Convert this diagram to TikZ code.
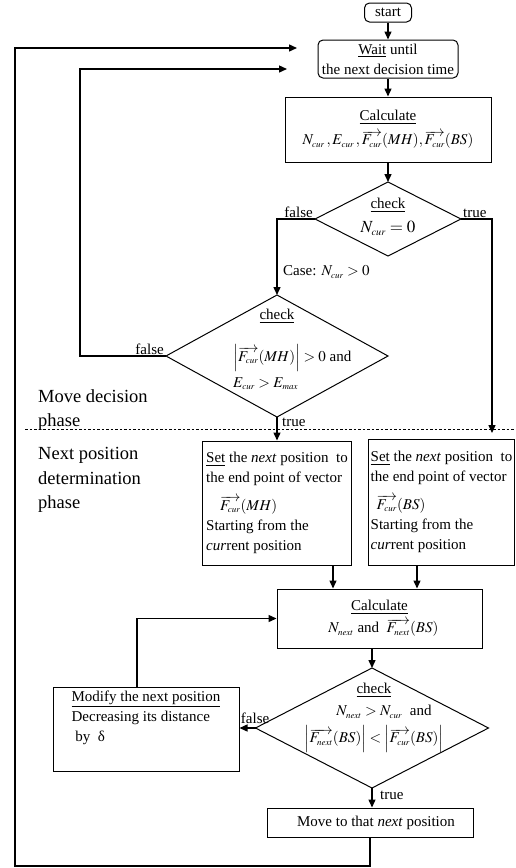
\documentclass[tikz,border=0pt]{standalone}
\usepackage{mathptmx}
\usepackage{fontspec}
\setmainfont{Liberation Serif}
\usetikzlibrary{shapes.geometric,arrows.meta}
\newcommand\mysb[1]{_{\scriptscriptstyle #1}}
\begin{document}
\begin{tikzpicture}[x=1pt,y=-1pt,
 txt/.style={font=\fontsize{15}{20}\selectfont, inner sep=0pt},
 box/.style={draw, line width=1pt, font=\fontsize{15}{20}\selectfont, align=center, inner sep=2pt},
 lbox/.style={box, align=left},
 dia/.style={draw, diamond, line width=1pt, inner sep=0pt, outer sep=0pt},
 arr/.style={line width=1.4pt, -{Triangle[length=8pt,width=7pt]}},
 phase/.style={font=\fontsize{18.5}{24.5}\selectfont, align=left, inner sep=0pt, anchor=west}]
\useasboundingbox (0,0) rectangle (515,868);

% nodes
\node[box, rounded corners=5pt, minimum width=47pt, minimum height=19pt, inner sep=0pt] (start) at (388,12.5) {start};
\node[box, rounded corners=5pt, minimum width=140pt, minimum height=38pt, inner sep=0pt] (wait) at (388,59) {\underline{Wait} until\\the next decision time};
\node[box, minimum width=206pt, minimum height=65pt] (calc1) at (388,129.5) {\underline{Calculate}\\[4pt] $N\mysb{cur}\,, E\mysb{cur}\,, \overrightarrow{F\mysb{cur}}(MH), \overrightarrow{F\mysb{cur}}(BS)$};
\node[dia, minimum width=146pt, minimum height=74pt] (d1) at (388,219) {};
\node[txt, align=center] (d1t) at (388,217) {\underline{check}\\[4pt] {\fontsize{17}{20}\selectfont $N\mysb{cur} = 0$}};
\node[dia, minimum width=222pt, minimum height=122pt] (d2) at (277,356) {};
\node[txt] (d2c) at (277,316) {\underline{check}};
\node[txt, align=left, anchor=west] (d2t) at (233,367) {$\left|\overrightarrow{F\mysb{cur}}(MH)\right| > 0$ and\\[6pt]$E\mysb{cur} > E\mysb{max}$};

\node[lbox, minimum width=149pt, minimum height=124pt] (bmh) at (277,503) {\underline{Set} the \textit{next} position\ \ to\\the end point of vector\\[8pt]\hspace*{14pt}$\overrightarrow{F\mysb{cur}}(MH)$\\Starting from the\\\textit{cur}rent position};
\node[lbox, minimum width=143pt, minimum height=126pt] (bbs) at (441.5,502) {\underline{Set} the \textit{next} position\ \ to\\the end point of vector\\[8pt]\hspace*{6pt}$\overrightarrow{F\mysb{cur}}(BS)$\\Starting from the\\\textit{cur}rent position};

\node[box, minimum width=205pt, minimum height=59pt] (calc2) at (379.5,618.5) {\underline{Calculate}\\[2pt]\hspace*{8pt}$N\mysb{next}$ and\ \ $\overrightarrow{F\mysb{next}}(BS)$};
\node[dia, minimum width=233pt, minimum height=120pt] (d3) at (372,728) {};
\node[txt, align=center] (d3t) at (374,718) {\underline{check}\\[2pt]\hspace*{20pt}$N\mysb{next} > N\mysb{cur}$\ \ and\\[7pt]$\left|\overrightarrow{F\mysb{next}}(BS)\right| < \left|\overrightarrow{F\mysb{cur}}(BS)\right|$};
\node[lbox, minimum width=186pt, minimum height=84pt] (modify) at (146,729) {\underline{Modify the next position}\\Decreasing its distance\\\ by\ \ δ\\[6pt]};
\node[box, minimum width=206pt, minimum height=29pt, inner sep=0pt] (move) at (370,822.5) {\hspace*{12pt}Move to that \textit{next} position};

% phase labels and separator
\node[phase] (ph1) at (38,410) {Move decision\\phase};
\node[phase] (ph2) at (38,480) {Next position\\determination\\phase};
\draw[dash pattern=on 2.5pt off 2pt, line width=1pt] (25,429) -- (515,429);

% connectors
\coordinate (tBS) at (492,433);
\coordinate (in1) at (297,48);
\coordinate (in2) at (287,69);
\coordinate (bmhd) at ([xshift=56pt]bmh.south);
\coordinate (bbsd) at ([xshift=-24.5pt]bbs.south);
\coordinate (mt) at ([xshift=-9pt]modify.north);

\draw[arr] (start.south) -- (wait.north);
\draw[arr] (wait.south) -- (calc1.north);
\draw[arr] (calc1.south) -- (d1.north);
\draw[arr] (d1.west) -| (d2.north);
\draw[arr] (d1.east) -| (tBS);
\draw[arr] (d2.south) -- (bmh.north);
\draw[arr] (d2.west) -| (80,69) -- (in2);
\draw[arr] (bmhd) -- (bmhd |- calc2.north);
\draw[arr] (bbsd) -- (bbsd |- calc2.north);
\draw[arr] (d3.north |- calc2.south) -- (d3.north);
\draw[arr] (d3.west) -- (d3.west -| modify.east);
\draw[arr] (mt) |- (calc2.west);
\draw[arr] (d3.south) -- (d3.south |- move.north);
\draw[arr] (move.south) |- (15,866) |- (in1);

% labels
\node[txt, anchor=south east] (f1) at ([xshift=-2pt,yshift=1pt]d1.west) {false};
\node[txt, anchor=south west] (t1) at ([xshift=2pt,yshift=1pt]d1.east) {true};
\node[txt, anchor=west] (case) at (283,272) {Case: $N\mysb{cur} > 0$};
\node[txt, anchor=south east] (f2) at ([xshift=-2pt,yshift=1pt]d2.west) {false};
\node[txt, anchor=north west] (t2) at ([xshift=5pt,yshift=-1pt]d2.south) {true};
\node[txt, anchor=south east] (f3) at ([xshift=14pt,yshift=4pt]d3.west) {false};
\node[txt, anchor=north west] (t3) at ([xshift=8pt,yshift=-3pt]d3.south) {true};
\end{tikzpicture}
\end{document}
